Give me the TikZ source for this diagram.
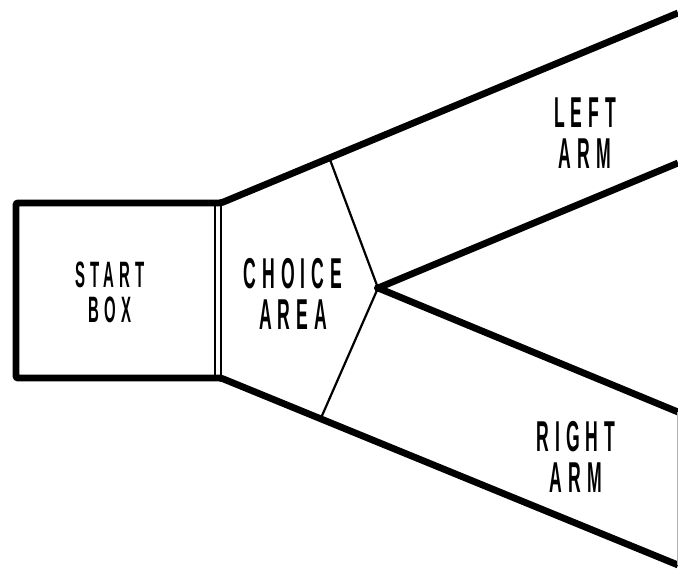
\documentclass[tikz,border=0pt]{standalone}
\usepackage{fontspec}
\usepackage{graphicx}
\setmainfont{Liberation Sans}
\newfontfamily\mazefont{Liberation Sans}[LetterSpace=34]
\usetikzlibrary{positioning}

% two-line condensed label
\newcommand{\mazelabel}[2]{\scalebox{0.44}[1.08]{\begin{tabular}{@{}c@{}}#1\\#2\end{tabular}}}

\begin{document}
\begin{tikzpicture}[
    x=1pt, y=-1pt,
    wall/.style={line width=6.8pt, line join=miter, rounded corners=2pt},
    gate/.style={line width=2.6pt},
    divider/.style={line width=2.2pt},
    rim/.style={line width=1.4pt, draw=gray!60},
    lbl/.style={inner sep=0pt, font=\mazefont\bfseries\fontsize{40}{37}\selectfont},
    lblsmall/.style={inner sep=0pt, font=\mazefont\bfseries\fontsize{34}{29}\selectfont},
]
\useasboundingbox (0,0) rectangle (678,569);

% Corners of the maze
\coordinate (leftTop) at (678,13);
\coordinate (leftIn) at (678,163);
\coordinate (rightIn) at (678,412);
\coordinate (rightBot) at (678,565);
\coordinate (apex) at (378,288);
\coordinate (gateT) at (221,203);
\coordinate (gateB) at (221,378);
\coordinate (boxTL) at (16,203);
\coordinate (boxBL) at (16,378);
\coordinate (divT) at (329,157);
\coordinate (divB) at (321,418);

% Walls
\draw[wall] (leftTop) -- (gateT) -- (boxTL) -- (boxBL) -- (gateB) -- (rightBot);
\draw[wall] (leftIn) -- (apex) -- (rightIn);
\fill (apex) circle (4);

% Gate and choice lines
\draw[gate] (215,203) -- (215,378);
\draw[gate] (gateT) -- (gateB);
\draw[divider] (divT) -- (apex) -- (divB);
\draw[rim] (677.3,412) -- (677.3,565);

% Labels
\node[lblsmall] (start) at (110,297) {\mazelabel{START}{BOX}};
\node[lbl] (choice) at (293,300) {\mazelabel{CHOICE}{AREA}};
\node[lbl] (leftarm) at (585,139) {\mazelabel{LEFT}{ARM}};
\node[lbl] (rightarm) at (576,463) {\mazelabel{RIGHT}{ARM}};

\end{tikzpicture}
\end{document}
